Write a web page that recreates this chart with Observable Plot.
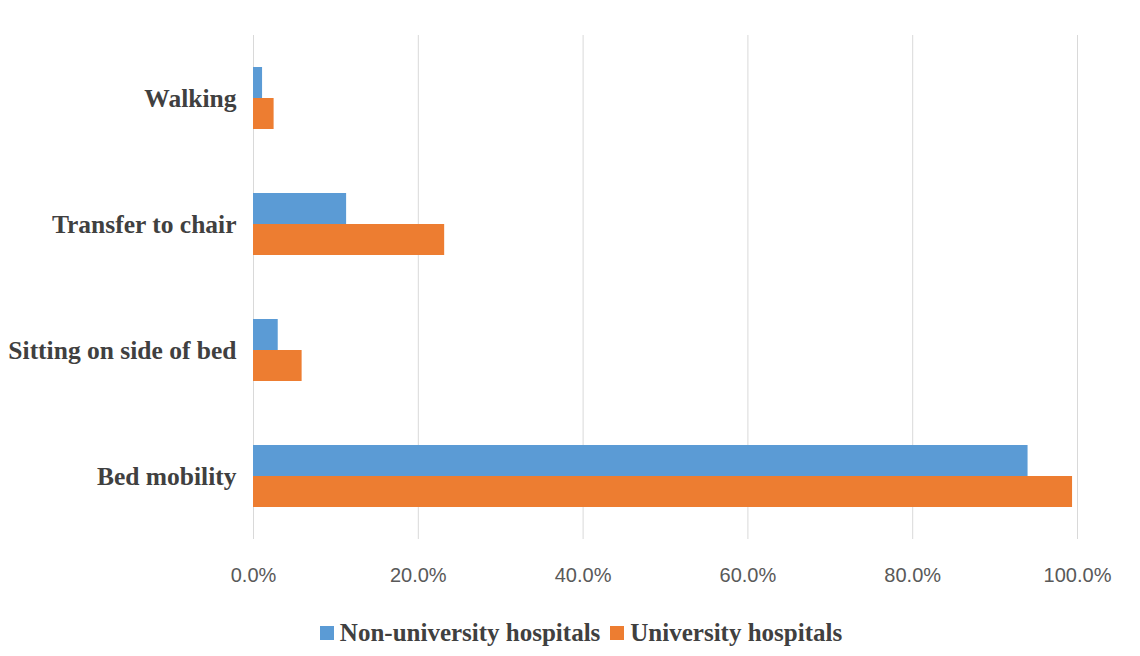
<!DOCTYPE html>
<html>
<head>
<meta charset="utf-8">
<script src="https://cdn.jsdelivr.net/npm/d3@7"></script>
<script src="https://cdn.jsdelivr.net/npm/@observablehq/plot@0.6"></script>
<style>
  body { margin: 0; background: #fff; }
  #chart { width: 1140px; }
  .legend { display: flex; justify-content: center; align-items: center; gap: 10px; height: 62px;
    font-family: "Liberation Serif", "DejaVu Serif", serif; font-weight: bold; font-size: 25px; color: #404040; padding-left: 22px; box-sizing: border-box; }
  .legend span.item { display: inline-flex; align-items: center; gap: 6px; }
  .legend i { display: inline-block; width: 14px; height: 14px; }
</style>
</head>
<body>
<div id="chart"></div>
<script>
const categories = ["Walking", "Transfer to chair", "Sitting on side of bed", "Bed mobility"];
const series = ["Non-university hospitals", "University hospitals"];
const nonUniversity = [0.011, 0.113, 0.030, 0.940];
const university = [0.025, 0.232, 0.059, 0.994];
const xTicks = [0, 0.2, 0.4, 0.6, 0.8, 1.0];
const colors = ["#5B9BD5", "#ED7D31"];

const data = [];
categories.forEach((c, i) => {
  data.push({category: c, group: series[0], value: nonUniversity[i]});
  data.push({category: c, group: series[1], value: university[i]});
});

const fmt = d => (d * 100).toFixed(1) + "%";

const chart = Plot.plot({
  width: 1140,
  height: 602,
  marginLeft: 253,
  marginRight: 63,
  marginTop: 34,
  marginBottom: 63,
  style: {background: "#fff"},
  x: {domain: [0, 1], label: null},
  y: {domain: series, axis: null, paddingInner: 0, paddingOuter: 1},
  fy: {domain: categories, padding: 0, label: null, axis: null},
  color: {domain: series, range: colors},
  marks: [
    Plot.ruleX(xTicks, {stroke: "#d9d9d9", strokeWidth: 1}),
    Plot.barX(data, {x: "value", y: "group", fy: "category", fill: "group"}),
    Plot.axisX({ticks: xTicks, tickFormat: fmt, tickSize: 0, tickPadding: 28, label: null,
      fontSize: 20, fill: "#595959", fontFamily: "'Liberation Sans', 'DejaVu Sans', sans-serif", facetAnchor: "bottom"}),
    Plot.axisFy({anchor: "left", tickSize: 0, tickPadding: 17, label: null, fontSize: 25.5, fontWeight: "bold", fill: "#404040",
      fontFamily: "'Liberation Serif', 'DejaVu Serif', serif"})
  ]
});
document.getElementById("chart").appendChild(chart);

const legend = document.createElement("div");
legend.className = "legend";
series.forEach((s, i) => {
  const item = document.createElement("span");
  item.className = "item";
  const sw = document.createElement("i");
  sw.style.background = colors[i];
  item.appendChild(sw);
  item.appendChild(document.createTextNode(s));
  legend.appendChild(item);
});
document.getElementById("chart").appendChild(legend);
</script>
</body>
</html>
